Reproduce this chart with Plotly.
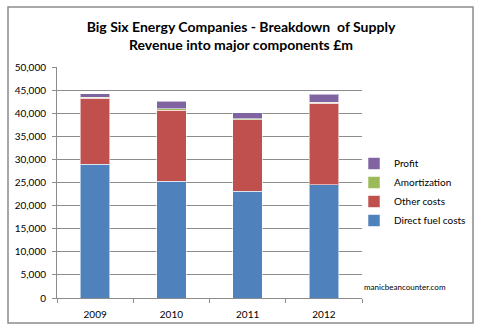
import plotly.graph_objects as go

years = ["2009", "2010", "2011", "2012"]
direct_fuel = [29000, 25300, 23100, 24500]
other_costs = [14200, 15300, 15450, 17700]
amortization = [300, 350, 300, 200]
profit = [700, 1600, 1300, 1650]

series = [
    ("Direct fuel costs", direct_fuel, "#4F81BD"),
    ("Other costs", other_costs, "#C0504D"),
    ("Amortization", amortization, "#9BBB59"),
    ("Profit", profit, "#8064A2"),
]

fig = go.Figure()
for name, vals, col in series:
    fig.add_trace(go.Bar(
        x=years, y=vals, name=name,
        marker=dict(color=col, line=dict(color="rgba(255,255,255,0.55)", width=1)),
        width=0.39,
    ))

fig.update_layout(
    barmode="stack",
    width=482, height=335,
    margin=dict(l=57, r=120, t=67, b=37, autoexpand=False),
    paper_bgcolor="white", plot_bgcolor="white",
    font=dict(family="Lato, Open Sans, sans-serif", size=10, color="#000"),
    title=dict(
        text="<b>Big Six Energy Companies - Breakdown  of Supply<br>Revenue into major components £m</b>",
        x=0.5, xanchor="center", xref="container",
        y=0.905, yanchor="middle", yref="container",
        font=dict(size=14, family="Lato, Open Sans, sans-serif", color="#000"),
    ),
    legend=dict(
        traceorder="reversed",
        x=(354 - 57) / 305, xanchor="left", y=0.645, yanchor="top",
        font=dict(size=10), itemwidth=30, tracegroupgap=0,
        bgcolor="rgba(0,0,0,0)",
    ),
    showlegend=True,
    bargap=0.6,
)
fig.update_yaxes(
    range=[0, 50000], dtick=5000, tickformat=",d",
    showgrid=True, gridcolor="#8c8c8c", gridwidth=1,
    showline=True, linecolor="#8c8c8c", linewidth=1,
    ticks="outside", ticklen=4, tickcolor="#8c8c8c",
    zeroline=False, tickfont=dict(size=10), ticklabelstandoff=4,
)
fig.update_xaxes(
    showline=True, linecolor="#8c8c8c", linewidth=1,
    ticks="outside", ticklen=4, tickcolor="#8c8c8c", tickson="boundaries",
    tickfont=dict(size=10), ticklabelstandoff=7,
)
fig.add_annotation(
    text="manicbeancounter.com", xref="paper", yref="paper",
    x=(405 - 57) / 305, y=(298 - 287) / 231, xanchor="center", yanchor="middle",
    showarrow=False, font=dict(size=8, color="#000"),
)
fig.add_shape(
    type="rect", xref="paper", yref="paper",
    x0=-49/305, x1=(473-57)/305, y0=-(323-298)/231, y1=(298-7)/231,
    line=dict(color="#8c8c8c", width=1.5), fillcolor="rgba(0,0,0,0)",
)
fig.write_html("out.html")
